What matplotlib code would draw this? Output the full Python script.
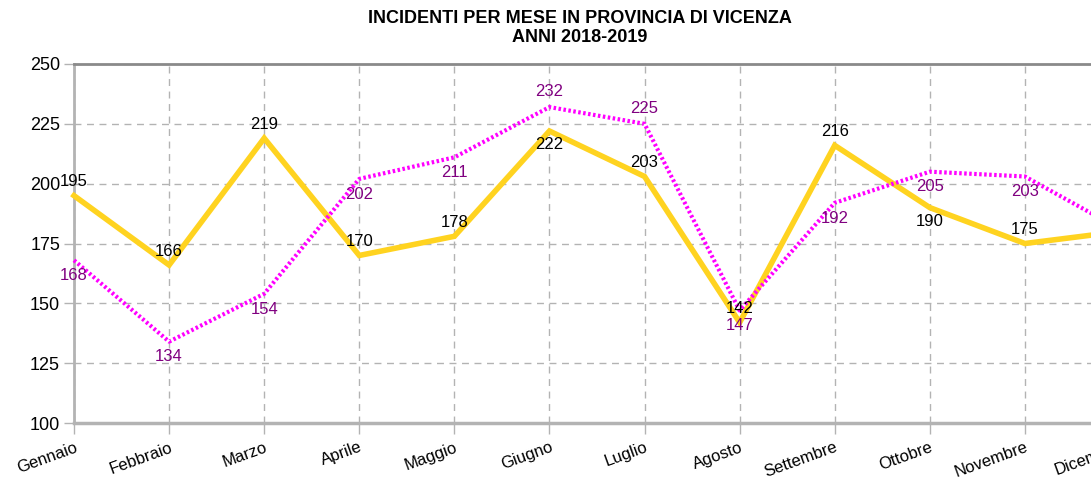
import matplotlib
matplotlib.use("Agg")
import matplotlib.pyplot as plt

months = ["Gennaio", "Febbraio", "Marzo", "Aprile", "Maggio", "Giugno",
          "Luglio", "Agosto", "Settembre", "Ottobre", "Novembre", "Dicembre"]
serie_a = [195, 166, 219, 170, 178, 222, 203, 142, 216, 190, 175, 180]
serie_b = [168, 134, 154, 202, 211, 232, 225, 147, 192, 205, 203, 181]
yticks = [100, 125, 150, 175, 200, 225, 250]
title = "INCIDENTI PER MESE IN PROVINCIA DI VICENZA\nANNI 2018-2019"

# label placement (style): +1 above, -1 below
pos_a = [1, 1, 1, 1, 1, -1, 1, 1, 1, -1, 1, 1]
pos_b = [-1, -1, -1, -1, -1, 1, 1, -1, -1, -1, -1, -1]

plt.rcParams['font.family'] = ['Liberation Sans', 'DejaVu Sans']

fig = plt.figure(figsize=(10.91, 4.8), dpi=100)
ax = fig.add_axes([74/1091, 1-423/480, (1120-74)/1091, (423-64)/480])

x = list(range(len(months)))
grid_c = "#b3b3b3"

ax.set_xlim(0, len(months)-1)
ax.set_ylim(100, 250)
ax.set_yticks(yticks)
ax.set_xticks(x)
ax.set_xticklabels(months, rotation=20, ha="right", rotation_mode="anchor", fontsize=12)
ax.tick_params(axis="y", labelsize=13, length=7, color=grid_c, pad=3, width=1)
ax.tick_params(axis="x", length=8, color=grid_c, pad=4, width=1)
ax.grid(True, color=grid_c, linestyle=(0, (5, 4)), linewidth=1)
ax.set_axisbelow(True)
ax.spines["right"].set_visible(False)
ax.spines["left"].set_color(grid_c)
ax.spines["left"].set_linewidth(2)
ax.spines["bottom"].set_color(grid_c)
ax.spines["bottom"].set_linewidth(2.5)
ax.spines["top"].set_color("#8a8a8a")
ax.spines["top"].set_linewidth(2)
ax.spines["top"].set_linestyle((0, (4, 1)))

ax.plot(x, serie_a, color="#ffd320", linewidth=4, solid_joinstyle="miter", zorder=3, clip_on=False)
ax.plot(x, serie_b, color="#ff00ff", linewidth=3, linestyle=(0, (0.6, 0.6)), zorder=4, clip_on=False)

for xi, v, p in zip(x, serie_a, pos_a):
    ax.annotate(str(v), (xi, v), xytext=(0, 10*p), textcoords="offset points",
                ha="center", va="center", fontsize=12, color="black", zorder=5,
                annotation_clip=False)
for xi, v, p in zip(x, serie_b, pos_b):
    ax.annotate(str(v), (xi, v), xytext=(0, 11*p), textcoords="offset points",
                ha="center", va="center", fontsize=12, color="#800080", zorder=5,
                annotation_clip=False)

fig.text(580/1091, 1-28/480, title, ha="center", va="center", fontsize=13,
         fontweight="bold", linespacing=1.2)

fig.savefig("out.png", dpi=100)
